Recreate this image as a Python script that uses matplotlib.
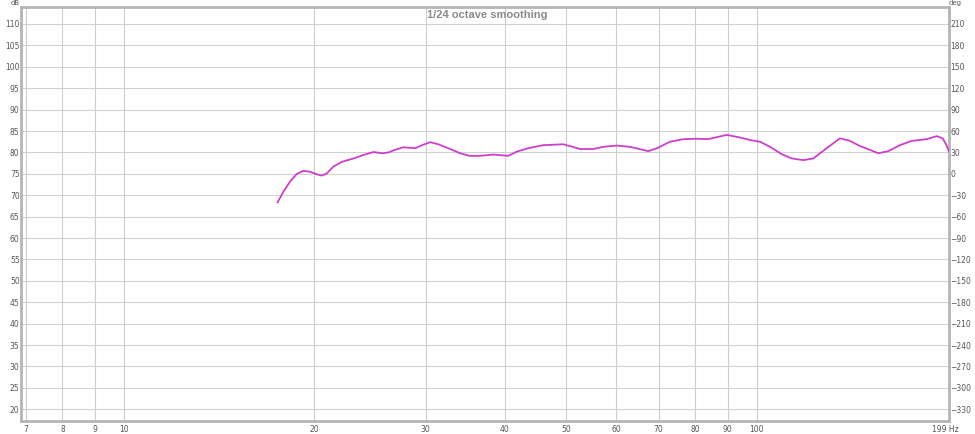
import matplotlib
matplotlib.use("Agg")
import matplotlib.pyplot as plt
from matplotlib.ticker import FixedLocator, NullLocator, FixedFormatter

# ---- data ----
freq_hz = [17.49, 17.87, 18.31, 18.77, 19.21, 19.69, 20.18, 20.55, 20.93, 21.44,
           22.1, 23.2, 23.9, 24.8, 25.6, 26.2, 26.8, 27.66, 28.9, 29.6,
           30.5, 31.4, 32.8, 34.0, 35.2, 36.5, 38.4, 40.5, 41.8, 43.6,
           46.0, 49.5, 52.6, 55.2, 57.2, 60.1, 63.1, 67.4, 69.9, 72.9,
           76.6, 80.4, 83.8, 89.7, 94.1, 97.6, 101.2, 105.0, 109.5, 113.6,
           118.5, 122.9, 129.0, 135.4, 140.4, 145.6, 151.0, 155.6, 161.4, 168.4,
           175.8, 185.6, 192.5, 196.7, 199.5, 201.3]
spl_db = [68.3, 70.8, 73.2, 75.0, 75.7, 75.5, 74.9, 74.6, 75.1, 76.7,
          77.8, 78.7, 79.4, 80.1, 79.8, 80.0, 80.6, 81.2, 81.0, 81.7,
          82.4, 81.9, 80.8, 79.8, 79.2, 79.2, 79.5, 79.2, 80.2, 81.0,
          81.7, 81.9, 80.8, 80.8, 81.3, 81.6, 81.3, 80.3, 81.1, 82.5,
          83.1, 83.2, 83.1, 84.1, 83.5, 82.9, 82.5, 81.3, 79.6, 78.6,
          78.2, 78.6, 81.0, 83.3, 82.7, 81.5, 80.6, 79.8, 80.3, 81.7,
          82.7, 83.1, 83.8, 83.3, 81.7, 80.2]

x_ticks = [7, 8, 9, 10, 20, 30, 40, 50, 60, 70, 80, 90, 100, 199]
x_labels = ["7", "8", "9", "10", "20", "30", "40", "50", "60", "70", "80", "90", "100", "199 Hz"]
db_ticks = list(range(20, 115, 5))
deg_ticks = list(range(-330, 240, 30))

title = "1/24 octave smoothing"

# ---- figure ----
W, H = 975, 434
fig = plt.figure(figsize=(W / 100, H / 100), dpi=100)
left, right, top, bottom = 21, 949, 7, 421
ax = fig.add_axes([left / W, 1 - bottom / H, (right - left) / W, (bottom - top) / H])

ax.set_xscale("log")
ax.set_xlim(6.88, 201.3)
ylo, yhi = 17.27, 113.97
ax.set_ylim(ylo, yhi)

for f in x_ticks[:-1]:
    ax.axvline(f, color="#cccccc", lw=0.8, zorder=1)
for d in db_ticks:
    ax.axhline(d, color="#d2d2d2", lw=0.8, zorder=1)

ax.plot(freq_hz, spl_db, color="#cc3fcc", lw=1.3, zorder=3,
        solid_capstyle="round", solid_joinstyle="round")

ax.xaxis.set_major_locator(FixedLocator(x_ticks))
ax.xaxis.set_major_formatter(FixedFormatter(x_labels))
ax.xaxis.set_minor_locator(NullLocator())
ax.yaxis.set_major_locator(FixedLocator(db_ticks))
ax.yaxis.set_minor_locator(NullLocator())

lab_c = "#555555"
ax.tick_params(axis="both", length=0, labelsize=5.5, colors=lab_c)
ax.tick_params(axis="x", pad=3)
ax.tick_params(axis="y", pad=1)

for s in ax.spines.values():
    s.set_color("#b4b4b4")
    s.set_linewidth(2.0)

ax2 = ax.twinx()
ax2.set_ylim((ylo - 75) * 6, (yhi - 75) * 6)
ax2.yaxis.set_major_locator(FixedLocator(deg_ticks))
ax2.yaxis.set_minor_locator(NullLocator())
ax2.tick_params(axis="y", length=0, labelsize=5.5, colors=lab_c, pad=1)
for s in ax2.spines.values():
    s.set_visible(False)

ax.text(0.5, 1 - 15 / H, title, transform=fig.transFigure, ha="center", va="center",
        fontsize=8, fontweight="bold", color="#8a8a8a", family="Liberation Sans")
fig.text(15 / W, 1 - 3 / H, "dB", ha="center", va="center", fontsize=5, color=lab_c)
fig.text(955 / W, 1 - 3 / H, "deg", ha="center", va="center", fontsize=5, color=lab_c)

fig.savefig("out.png", dpi=100)
